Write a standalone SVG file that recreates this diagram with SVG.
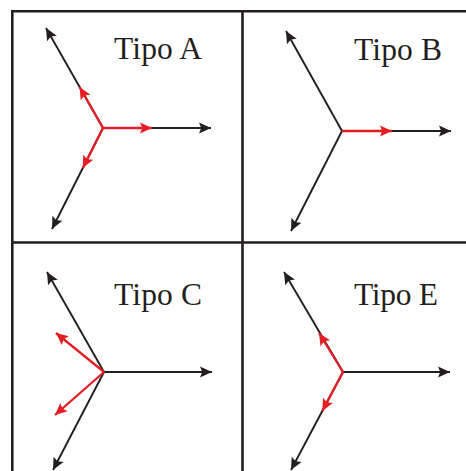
<svg xmlns="http://www.w3.org/2000/svg" width="466" height="471" viewBox="0 0 466 471">
<style>
.frame{stroke:#231f20;stroke-width:2.6;fill:none}
.k{stroke:#231f20;stroke-width:1.9;fill:none;marker-end:url(#ak)}
.r{stroke:#e31e25;stroke-width:2.3;fill:none;marker-end:url(#ar)}
.lbl{font-family:"Liberation Serif","Times New Roman",serif;font-size:31.5px;fill:#231f20}
</style>
<defs>
<marker id="ak" viewBox="-1 -7 14 14" refX="12" refY="0" markerWidth="14" markerHeight="14" markerUnits="userSpaceOnUse" orient="auto">
<path d="M0,-5.6 L12,0 L0,5.6 L2.2,0 z" fill="#231f20"/>
</marker>
<marker id="ar" viewBox="-1 -7 14 14" refX="12" refY="0" markerWidth="14" markerHeight="14" markerUnits="userSpaceOnUse" orient="auto">
<path d="M0,-5.6 L12,0 L0,5.6 L2.2,0 z" fill="#e31e25"/>
</marker>
</defs>
<rect width="466" height="471" fill="#ffffff"/>
<g id="frame">
<path class="frame" d="M12.3,471 V11.3 H466 M242.5,11.3 V471 M12.3,242.5 H466"/>
</g>
<g id="tipo-a">
<text class="lbl" x="114" y="59.3" textLength="88">Tipo A</text>
<g class="connectors">
<line class="k" x1="103" y1="128" x2="211" y2="128"/>
<line class="k" x1="103" y1="128" x2="46" y2="28"/>
<line class="k" x1="103" y1="128" x2="52" y2="229"/>
<line class="r" x1="103" y1="128" x2="152" y2="128"/>
<line class="r" x1="103" y1="128" x2="79.6" y2="87"/>
<line class="r" x1="103" y1="128" x2="82.8" y2="168"/>
</g>
</g>
<g id="tipo-b">
<text class="lbl" x="354" y="60" textLength="88">Tipo B</text>
<g class="connectors">
<line class="k" x1="342" y1="131" x2="451" y2="131"/>
<line class="k" x1="342" y1="131" x2="286" y2="31"/>
<line class="k" x1="342" y1="131" x2="291" y2="231"/>
<line class="r" x1="342" y1="131" x2="392" y2="131"/>
</g>
</g>
<g id="tipo-c">
<text class="lbl" x="114" y="305" textLength="88">Tipo C</text>
<g class="connectors">
<line class="k" x1="104" y1="372" x2="212" y2="372"/>
<line class="k" x1="104" y1="372" x2="47" y2="272"/>
<line class="k" x1="104" y1="372" x2="53" y2="470"/>
<line class="r" x1="104" y1="372" x2="56" y2="333"/>
<line class="r" x1="104" y1="372" x2="55" y2="415"/>
</g>
</g>
<g id="tipo-e">
<text class="lbl" x="354" y="305" textLength="84">Tipo E</text>
<g class="connectors">
<line class="k" x1="343" y1="372" x2="450" y2="372"/>
<line class="k" x1="343" y1="372" x2="284" y2="272"/>
<line class="k" x1="343" y1="372" x2="291" y2="470"/>
<line class="r" x1="343" y1="372" x2="319" y2="333"/>
<line class="r" x1="343" y1="372" x2="322.3" y2="411"/>
</g>
</g>
</svg>
